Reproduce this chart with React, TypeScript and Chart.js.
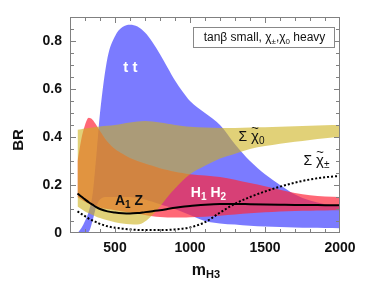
import React, { useEffect, useRef } from "react";
import { Chart, registerables } from "chart.js";

Chart.register(...registerables);

// ---- data (m_H3 grid and branching ratios) ----
const MASS = [250, 275, 300, 325, 350, 375, 400, 450, 500, 550, 600, 650, 700, 750, 800, 850, 900, 950, 1000, 1100, 1200, 1300, 1400, 1500, 1600, 1700, 1800, 1900, 2000];

const TT_UPPER = [0.0, 0.02, 0.05, 0.09, 0.16, 0.32, 0.5, 0.73, 0.82, 0.858, 0.868, 0.86, 0.835, 0.795, 0.745, 0.69, 0.635, 0.59, 0.55, 0.5, 0.45, 0.37, 0.3, 0.245, 0.2, 0.16, 0.135, 0.12, 0.11];
const TT_LOWER = [0, 0, 0, 0.005, 0.05, 0.11, 0.14, 0.15, 0.15, 0.15, 0.15, 0.145, 0.14, 0.13, 0.12, 0.11, 0.1, 0.087, 0.075, 0.05, 0.04, 0.035, 0.03, 0.027, 0.025, 0.023, 0.022, 0.021, 0.02];

const H1H2_UPPER = [0.3, 0.39, 0.45, 0.48, 0.472, 0.45, 0.425, 0.38, 0.35, 0.33, 0.312, 0.3, 0.29, 0.28, 0.27, 0.262, 0.255, 0.25, 0.245, 0.24, 0.233, 0.222, 0.208, 0.195, 0.18, 0.167, 0.157, 0.152, 0.15];
const H1H2_LOWER = [0.15, 0.14, 0.13, 0.122, 0.115, 0.11, 0.105, 0.1, 0.095, 0.09, 0.085, 0.08, 0.075, 0.07, 0.067, 0.065, 0.065, 0.065, 0.066, 0.068, 0.072, 0.077, 0.082, 0.086, 0.09, 0.092, 0.093, 0.094, 0.095];

const NEUTRALINO_UPPER = [0.43, 0.432, 0.435, 0.437, 0.44, 0.442, 0.444, 0.447, 0.45, 0.455, 0.46, 0.465, 0.467, 0.465, 0.46, 0.455, 0.45, 0.446, 0.443, 0.44, 0.438, 0.438, 0.44, 0.441, 0.443, 0.445, 0.447, 0.449, 0.45];
const NEUTRALINO_LOWER = [0.11, 0.1, 0.09, 0.082, 0.075, 0.068, 0.062, 0.053, 0.045, 0.04, 0.036, 0.035, 0.048, 0.075, 0.11, 0.15, 0.185, 0.218, 0.245, 0.28, 0.31, 0.33, 0.35, 0.362, 0.372, 0.38, 0.388, 0.395, 0.4];

const A1Z = [0.165, 0.152, 0.14, 0.128, 0.118, 0.108, 0.1, 0.09, 0.085, 0.082, 0.081, 0.083, 0.087, 0.091, 0.095, 0.1, 0.105, 0.109, 0.112, 0.118, 0.121, 0.121, 0.12, 0.119, 0.118, 0.117, 0.117, 0.116, 0.116];
const CHARGINO = [0.09, 0.08, 0.07, 0.06, 0.052, 0.045, 0.038, 0.028, 0.022, 0.018, 0.015, 0.013, 0.012, 0.012, 0.012, 0.013, 0.015, 0.018, 0.023, 0.045, 0.085, 0.122, 0.15, 0.173, 0.193, 0.21, 0.223, 0.232, 0.238];

const X_MIN = 200;
const X_MAX = 2000;
const Y_MIN = 0;
const Y_MAX = 0.9;
const X_TICKS = [500, 1000, 1500, 2000];
const X_TICK_LABELS = ["500", "1000", "1500", "2000"];
const Y_TICKS = [0, 0.2, 0.4, 0.6, 0.8];
const Y_TICK_LABELS = ["0", "0.2", "0.4", "0.6", "0.8"];

const FONT = "'Liberation Sans', Arial, sans-serif";

const pts = (ys: number[]) => MASS.map((m, i) => ({ x: m, y: ys[i] }));

type Part = { t: string; size: number; bold?: boolean; dy?: number };

function drawParts(ctx: CanvasRenderingContext2D, parts: Part[], cx: number, baseline: number, color: string) {
  let w = 0;
  parts.forEach((p) => {
    ctx.font = `${p.bold ? "bold " : ""}${p.size}px ${FONT}`;
    w += ctx.measureText(p.t).width;
  });
  let xx = cx - w / 2;
  ctx.fillStyle = color;
  ctx.textAlign = "left";
  ctx.textBaseline = "alphabetic";
  parts.forEach((p) => {
    ctx.font = `${p.bold ? "bold " : ""}${p.size}px ${FONT}`;
    ctx.fillText(p.t, xx, baseline + (p.dy || 0));
    xx += ctx.measureText(p.t).width;
  });
}

// chi with tilde, drawn as separate glyphs
function drawSumChi(ctx: CanvasRenderingContext2D, cx: number, baseline: number, sub: string) {
  const parts: Part[] = [
    { t: "Σ ", size: 14 },
    { t: "χ", size: 15 },
    { t: sub, size: 10, dy: 3 },
  ];
  let w = 0;
  const widths: number[] = [];
  parts.forEach((p) => {
    ctx.font = `${p.size}px ${FONT}`;
    const ww = ctx.measureText(p.t).width;
    widths.push(ww);
    w += ww;
  });
  drawParts(ctx, parts, cx, baseline, "#111");
  const chiX = cx - w / 2 + widths[0] + widths[1] / 2;
  ctx.font = `13px ${FONT}`;
  ctx.textAlign = "center";
  ctx.fillText("~", chiX, baseline - 9);
}

const decor = {
  id: "decor",
  afterDatasetsDraw(chart: any) {
    const { ctx, chartArea: a } = chart;
    const x = chart.scales.x;
    const y = chart.scales.y;
    ctx.save();

    // band labels
    drawParts(ctx, [{ t: "t t", size: 15, bold: true }], x.getPixelForValue(603), y.getPixelForValue(0.67), "#fff");
    drawParts(
      ctx,
      [
        { t: "A", size: 14, bold: true },
        { t: "1", size: 10, bold: true, dy: 3 },
        { t: " Z", size: 14, bold: true },
      ],
      x.getPixelForValue(593),
      y.getPixelForValue(0.115),
      "#111"
    );
    drawParts(
      ctx,
      [
        { t: "H", size: 14, bold: true },
        { t: "1", size: 10, bold: true, dy: 3 },
        { t: " H", size: 14, bold: true },
        { t: "2", size: 10, bold: true, dy: 3 },
      ],
      x.getPixelForValue(1123),
      y.getPixelForValue(0.148),
      "#fff"
    );
    drawSumChi(ctx, x.getPixelForValue(1410), y.getPixelForValue(0.383), "0");
    drawSumChi(ctx, x.getPixelForValue(1843), y.getPixelForValue(0.283), "±");

    // frame
    ctx.strokeStyle = "#808080";
    ctx.lineWidth = 1;
    ctx.strokeRect(Math.round(a.left) + 0.5, Math.round(a.top) + 0.5, Math.round(a.right - a.left) - 1, Math.round(a.bottom - a.top) - 1);

    // inward ticks
    ctx.beginPath();
    for (let v = 300; v < X_MAX; v += 100) {
      const px = Math.round(x.getPixelForValue(v)) + 0.5;
      const len = v % 500 === 0 ? 6 : 4;
      ctx.moveTo(px, a.bottom);
      ctx.lineTo(px, a.bottom - len);
      ctx.moveTo(px, a.top);
      ctx.lineTo(px, a.top + len);
    }
    for (let k = 1; k < 18; k++) {
      const v = k * 0.05;
      const py = Math.round(y.getPixelForValue(v)) + 0.5;
      const len = k % 4 === 0 ? 6 : 4;
      ctx.moveTo(a.left, py);
      ctx.lineTo(a.left + len, py);
      ctx.moveTo(a.right, py);
      ctx.lineTo(a.right - len, py);
    }
    ctx.stroke();

    // tick labels
    ctx.fillStyle = "#111";
    ctx.font = `bold 14px ${FONT}`;
    ctx.textAlign = "right";
    ctx.textBaseline = "middle";
    Y_TICKS.forEach((v, i) => ctx.fillText(Y_TICK_LABELS[i], a.left - 8, y.getPixelForValue(v)));
    ctx.textAlign = "center";
    ctx.textBaseline = "top";
    X_TICKS.forEach((v, i) => ctx.fillText(X_TICK_LABELS[i], x.getPixelForValue(v), a.bottom + 8));

    // axis titles
    drawParts(
      ctx,
      [
        { t: "m", size: 16, bold: true },
        { t: "H3", size: 11, bold: true, dy: 3 },
      ],
      (a.left + a.right) / 2 + 1,
      a.bottom + 42,
      "#111"
    );
    ctx.save();
    ctx.translate(19, (a.top + a.bottom) / 2 + 15);
    ctx.rotate(-Math.PI / 2);
    ctx.font = `bold 15px ${FONT}`;
    ctx.fillStyle = "#111";
    ctx.textAlign = "center";
    ctx.textBaseline = "middle";
    ctx.fillText("BR", 0, 0);
    ctx.restore();

    // info box
    const bx = a.right - 147;
    const by = a.top + 10;
    const bw = 141;
    const bh = 20;
    ctx.fillStyle = "#fff";
    ctx.fillRect(bx, by, bw, bh);
    ctx.strokeStyle = "#888";
    ctx.strokeRect(bx + 0.5, by + 0.5, bw, bh);
    drawParts(
      ctx,
      [
        { t: "tanβ small, χ", size: 12 },
        { t: "±", size: 8, dy: 3 },
        { t: ",χ", size: 12 },
        { t: "0", size: 8, dy: 3 },
        { t: " heavy", size: 12 },
      ],
      bx + bw / 2 + 1,
      by + 14,
      "#111"
    );

    ctx.restore();
  },
};

export default function App() {
  const ref = useRef<HTMLCanvasElement | null>(null);

  useEffect(() => {
    if (!ref.current) return;
    const band = (lower: number[], upper: number[], color: string, order: number) => [
      {
        data: pts(lower),
        borderColor: "transparent",
        borderWidth: 0,
        pointRadius: 0,
        fill: false,
        order,
        cubicInterpolationMode: "monotone" as const,
      },
      {
        data: pts(upper),
        borderColor: "transparent",
        borderWidth: 0,
        pointRadius: 0,
        fill: "-1",
        backgroundColor: color,
        order,
        cubicInterpolationMode: "monotone" as const,
      },
    ];
    const chart = new Chart(ref.current, {
      type: "line",
      data: {
        datasets: [
          ...band(TT_LOWER, TT_UPPER, "rgba(90,90,255,0.8)", 3),
          ...band(H1H2_LOWER, H1H2_UPPER, "rgba(255,40,60,0.7)", 2),
          ...band(NEUTRALINO_LOWER, NEUTRALINO_UPPER, "rgba(205,178,30,0.6)", 1),
          {
            data: pts(A1Z),
            borderColor: "#000",
            borderWidth: 2,
            pointRadius: 0,
            fill: false,
            order: 0,
            cubicInterpolationMode: "monotone" as const,
          },
          {
            data: pts(CHARGINO),
            borderColor: "#000",
            borderWidth: 2,
            borderDash: [2, 2],
            pointRadius: 0,
            fill: false,
            order: 0,
            cubicInterpolationMode: "monotone" as const,
          },
        ] as any,
      },
      options: {
        animation: false,
        responsive: false,
        devicePixelRatio: 1,
        layout: { padding: { left: 70, right: 26, top: 17, bottom: 59 } },
        plugins: { legend: { display: false }, tooltip: { enabled: false } },
        scales: {
          x: { type: "linear", min: X_MIN, max: X_MAX, display: false },
          y: { type: "linear", min: Y_MIN, max: Y_MAX, display: false },
        },
      },
      plugins: [decor],
    });
    return () => chart.destroy();
  }, []);

  return (
    <div style={{ position: "fixed", left: 0, top: 0, width: 366, height: 292, background: "#fff" }}>
      <canvas ref={ref} width={366} height={292} />
    </div>
  );
}
